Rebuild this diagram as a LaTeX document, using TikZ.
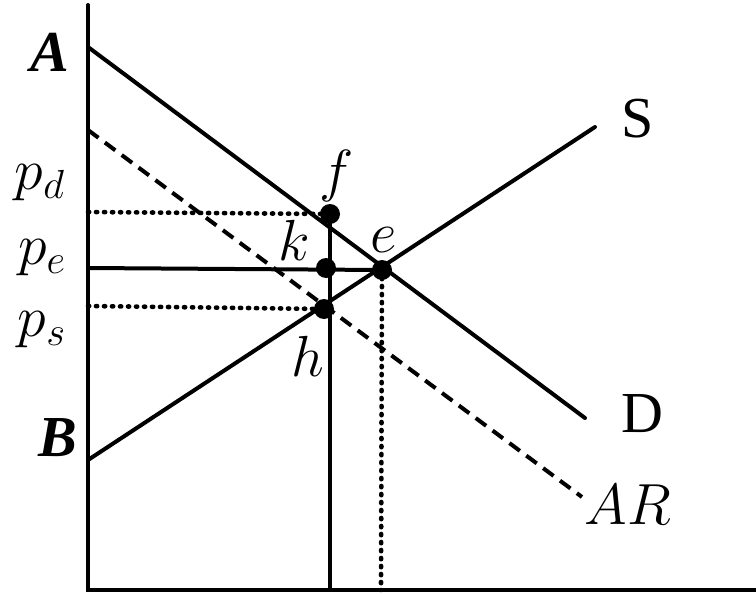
\RequirePackage{fix-cm}
\documentclass[tikz,border=0pt]{standalone}
\usepackage{fontspec}
\setmainfont{Liberation Serif}
\begin{document}
\begin{tikzpicture}[x=0.5pt, y=-0.5pt, line cap=round,
  font=\fontsize{26}{30}\selectfont,
  curve/.style={line width=2pt},
  arline/.style={line width=2pt, line cap=butt, dash pattern=on 6.5pt off 4pt},
  guide/.style={line width=2.3pt, dash pattern=on 0.6pt off 3.4pt},
  dot/.style={circle, fill, inner sep=0pt, minimum size=10pt},
  big/.style={font=\fontsize{29}{33}\selectfont}]

  \useasboundingbox (0,0) rectangle (756,594);

  % 1px = 0.5pt, y measured downwards
  \coordinate (O)   at (88, 590);
  \coordinate (top) at (88,   5);
  \coordinate (xe)  at (756,590);
  \coordinate (A)   at (88,  47);
  \coordinate (Dend) at (585,418);
  \coordinate (B)   at (88, 460);
  \coordinate (Send) at (595,127);
  \coordinate (R0)  at (88, 130);
  \coordinate (Rend) at (582,497);
  \coordinate (Qt)  at (330,590);
  \coordinate (Qe)  at (381,590);
  \coordinate (pd)  at (88, 212);
  \coordinate (pe)  at (88, 268);
  \coordinate (ps)  at (88, 306);

  % axes
  \draw[curve] (top) -- (O) -- (xe);

  % demand, supply, AR
  \draw[curve] (A) -- (Dend);
  \draw[curve] (B) -- (Send);
  \draw[arline] (R0) -- (Rend);

  % points
  \node[dot] (f) at (330,214) {};
  \node[dot] (k) at (326,268) {};
  \node[dot] (h) at (324,309) {};
  \node[dot] (e) at (382,270) {};

  % price lines
  \draw[guide] (pd) -- (f.center);
  \draw[curve] (pe) -- (e.center);
  \draw[guide] (ps) -- (h.center);
  \draw[curve] (f.center) -- (Qt);
  \draw[guide] (e.center) -- (Qe);

  % labels
  \node[big] at (50, 52)  {\textbf{\textit{A}}};
  \node[big] at (58, 438) {\textbf{\textit{B}}};
  \node[big] at (638,119) {S};
  \node[big] at (642,414) {D};
  \node[big] at (628,505) {$AR$};
  \node[big] at (40, 183) {$p_d$};
  \node[big] at (42, 258) {$p_e$};
  \node[big] at (42, 330) {$p_s$};
  \node[big] at (337,176) {$f$};
  \node[big] at (294,240) {$k$};
  \node[big] at (384,240) {$e$};
  \node[big] at (308,356) {$h$};

\end{tikzpicture}
\end{document}
